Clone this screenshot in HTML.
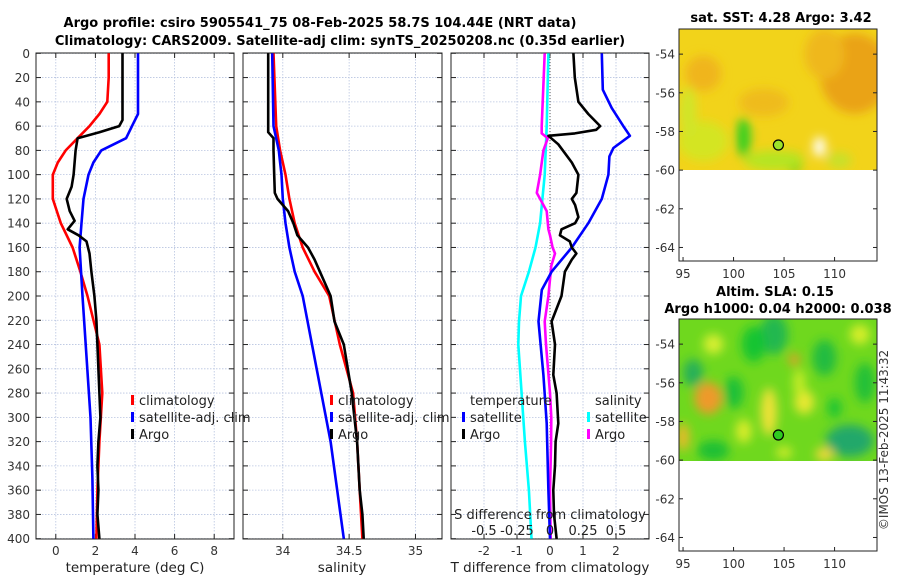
<!DOCTYPE html>
<html><head><meta charset="utf-8">
<style>
html,body{margin:0;padding:0;background:#fff;}
svg{display:block;font-family:"DejaVu Sans","Liberation Sans",sans-serif;}
.t{font-size:12px;fill:#333;}
.ti{font-size:13px;font-weight:bold;fill:#000;}
.lg{font-size:13px;fill:#222;}
.ax{font-size:13.5px;fill:#222;}
</style></head>
<body>
<svg id="fig" width="900" height="580" viewBox="0 0 900 580">
<defs>
<filter id="blur1" x="-20%" y="-20%" width="140%" height="140%"><feGaussianBlur stdDeviation="5"/></filter>
<clipPath id="c1"><rect x="679" y="29" width="198" height="141"/></clipPath>
<clipPath id="c2"><rect x="679" y="319" width="198" height="142"/></clipPath>
</defs>
<text class="ti" x="320" y="27" text-anchor="middle">Argo profile: csiro 5905541_75 08-Feb-2025 58.7S 104.44E (NRT data)</text>
<text class="ti" x="340" y="45" text-anchor="middle">Climatology: CARS2009. Satellite-adj clim: synTS_20250208.nc (0.35d earlier)</text>
<g id="plots"></g>
<g id="maps"></g>
<text class="t" x="0" y="0" transform="translate(888,440) rotate(-90)" text-anchor="middle">©IMOS 13-Feb-2025 11:43:32</text>
</svg>
<script>
// ---- data ----
const tDepth=[0,20,40,50,60,70,80,90,100,120,140,160,180,200,240,280,320,360,400];
const tClim=[2.67,2.67,2.6,2.2,1.7,1.1,0.5,0.1,-0.15,-0.15,0.25,0.85,1.24,1.6,2.2,2.35,2.2,2.1,2.05];
const aDepth=[0,55,60,65,70,80,100,110,120,130,138,145,150,155,165,180,200,220,240,260,280,300,320,340,360,380,400];
const tArgo=[3.37,3.37,3.2,2.2,1.1,1.0,0.9,0.8,0.55,0.7,0.95,0.6,1.15,1.55,1.7,1.8,1.95,2.05,2.1,2.15,2.2,2.25,2.15,2.1,2.15,2.1,2.2];
const bDepth=[0,50,60,70,80,90,100,120,140,160,200,250,300,350,400];
const tSat=[4.15,4.15,3.85,3.55,2.3,1.9,1.65,1.4,1.3,1.2,1.35,1.55,1.75,1.85,1.9];
const sDepth=[0,60,80,90,100,120,140,160,180,200,240,280,320,360,400];
const sClim=[33.93,33.95,33.98,34.0,34.02,34.05,34.09,34.15,34.24,34.35,34.43,34.53,34.56,34.58,34.60];
const sSat=[33.92,33.93,33.97,33.98,33.99,34.0,34.02,34.05,34.09,34.15,34.22,34.29,34.36,34.41,34.46];
const saDepth=[0,60,65,70,80,100,115,120,125,130,140,150,155,160,170,180,190,200,221,240,260,280,300,320,340,360,380,400];
const sArgo=[33.89,33.89,33.89,33.93,33.93,33.935,33.94,33.96,34.0,34.04,34.08,34.11,34.15,34.19,34.24,34.28,34.32,34.36,34.39,34.46,34.49,34.52,34.54,34.56,34.57,34.58,34.60,34.61];
const dtDepth=[0,20,40,50,60,63,66,68,75,90,100,115,120,125,135,140,145,150,155,160,165,170,180,190,200,221,240,265,280,305,320,340,360,380,400];
const dtArgo=[0.71,0.75,0.86,1.16,1.52,1.4,0.75,-0.05,0.25,0.66,0.86,0.8,0.66,0.76,0.86,0.76,0.35,0.3,0.6,0.66,0.8,0.66,0.45,0.4,0.35,0.05,0.15,0.1,0.2,0.25,0.17,0.15,0.1,0.12,0.2];
const dsDepth=[0,30,45,60,68,78,85,100,120,140,160,180,195,221,265,305,360,400];
const dtSat=[1.57,1.6,1.87,2.22,2.42,1.92,1.8,1.77,1.57,1.16,0.66,0.05,-0.25,-0.35,-0.2,-0.1,-0.05,0];
const csDepth=[0,60,100,140,160,180,200,221,240,280,320,360,400];
const dsSat=[-0.012,-0.025,-0.04,-0.075,-0.11,-0.16,-0.22,-0.235,-0.24,-0.215,-0.19,-0.16,-0.14];
const msDepth=[0,60,66,70,80,100,115,120,130,145,150,160,165,175,200,221,240,280,300,320,360,400];
const dsArgo=[-0.04,-0.063,-0.063,-0.017,-0.05,-0.075,-0.1,-0.075,-0.025,-0.012,0.0,0.02,0.038,0.01,-0.012,-0.04,-0.03,0,0.01,0.008,0,0.005];
const depthTicks=[0,20,40,60,80,100,120,140,160,180,200,220,240,260,280,300,320,340,360,380,400];
const tTicks=[0,2,4,6,8];
const sTicks=[34,34.5,35];
const dTicks=[-2,-1,0,1,2];
const dsTickLabels=['-0.5','-0.25','0','0.25','0.5'];
const dsTicks=[-0.5,-0.25,0,0.25,0.5];
const latTicks=[-54,-56,-58,-60,-62,-64];
const lonTicks=[95,100,105,110];
const argoLon=104.44, argoLat=-58.7;

const NS='http://www.w3.org/2000/svg';
const plots=document.getElementById('plots');
const maps=document.getElementById('maps');
function mk(tag,attrs,parent,text){const e=document.createElementNS(NS,tag);for(const k in attrs)e.setAttribute(k,attrs[k]);if(text!==undefined)e.textContent=text;(parent||plots).appendChild(e);return e;}
const Y0=53.3, YS=1.2135;
function yD(d){return Y0+d*YS;}
const panels=[{l:36,r:234,min:-1,max:9},{l:243,r:442,min:33.7,max:35.2},{l:451,r:649,min:-3,max:3}];
function xf(p,v){return p.l+(v-p.min)/(p.max-p.min)*(p.r-p.l);}
const pTop=53, pBot=539;
panels.forEach((p,i)=>{
  const g=mk('g',{});  
  depthTicks.forEach(d=>{const y=yD(d);
    const gl=mk('line',{x1:p.l,x2:p.r,y1:y,y2:y,stroke:'#b8c4e0','stroke-width':0.8,'stroke-dasharray':'1.5,1.5'},g);
     
    mk('line',{x1:p.l,x2:p.l+5,y1:y,y2:y,stroke:'#222'},g);
    mk('line',{x1:p.r-5,x2:p.r,y1:y,y2:y,stroke:'#222'},g);
  });
  const ticks=i==0?tTicks:i==1?sTicks:dTicks;
  ticks.forEach(v=>{const x=xf(p,v);
    const gl=mk('line',{x1:x,x2:x,y1:pTop,y2:pBot,stroke:'#b8c4e0','stroke-width':0.8,'stroke-dasharray':'1.5,1.5'},g);
     
    mk('line',{x1:x,x2:x,y1:pBot-5,y2:pBot,stroke:'#222'},g);
    mk('line',{x1:x,x2:x,y1:pTop,y2:pTop+5,stroke:'#222'},g);
    const t=mk('text',{x:x,y:555,'text-anchor':'middle',class:'t'},g,String(v));
     
  });
  const fr=mk('rect',{x:p.l,y:pTop,width:p.r-p.l,height:pBot-pTop,fill:'none',stroke:'#222','stroke-width':1},g);
   
});
depthTicks.forEach(d=>{const t=mk('text',{x:30,y:yD(d)+4.5,'text-anchor':'end',class:'t'},plots,String(d));
   });
const zl=mk('line',{x1:xf(panels[2],0),x2:xf(panels[2],0),y1:pTop,y2:pBot,stroke:'#555','stroke-width':1,'stroke-dasharray':'1,2'});
 

function line(pi,depths,vals,color,name,scale){
  const p=panels[pi]; const pts=depths.map((d,k)=>xf(p,vals[k]*(scale||1)).toFixed(1)+','+yD(d).toFixed(1)).join(' ');
  const e=mk('polyline',{points:pts,fill:'none',stroke:color,'stroke-width':2.6,'stroke-linejoin':'round'});
   
}
line(0,tDepth,tClim,'#ff0000','temp-climatology-line');
line(0,bDepth,tSat,'#0000ff','temp-satellite-adj-line');
line(0,aDepth,tArgo,'#000','temp-argo-line');
line(1,sDepth,sClim,'#ff0000','salinity-climatology-line');
line(1,sDepth,sSat,'#0000ff','salinity-satellite-adj-line');
line(1,saDepth,sArgo,'#000','salinity-argo-line');
line(2,csDepth,dsSat,'#00ffff','s-diff-satellite-line',4);
line(2,msDepth,dsArgo,'#ff00ff','s-diff-argo-line',4);
line(2,dsDepth,dtSat,'#0000ff','t-diff-satellite-line');
line(2,dtDepth,dtArgo,'#000','t-diff-argo-line');

function leg(x,y,color,label,name){
  const g=mk('g',{});  
  mk('rect',{x:x,y:y-10,width:3,height:10,fill:color},g);
  mk('text',{x:x+8,y:y,class:'lg'},g,label);
}
leg(131,405,'#f00','climatology','legend-entry-climatology');
leg(131,422,'#00f','satellite-adj. clim','legend-entry-satellite-adj');
leg(131,439,'#000','Argo','legend-entry-argo');
leg(330,405,'#f00','climatology','legend-entry-climatology-2');
leg(330,422,'#00f','satellite-adj. clim','legend-entry-satellite-adj-2');
leg(330,439,'#000','Argo','legend-entry-argo-2');
let tt=mk('text',{x:470,y:405,class:'lg'},plots,'temperature');
leg(462,422,'#00f','satellite','legend-entry-t-satellite');
leg(462,439,'#000','Argo','legend-entry-t-argo');
tt=mk('text',{x:595,y:405,class:'lg'},plots,'salinity');
leg(587,422,'#0ff','satellite','legend-entry-s-satellite');
leg(587,439,'#f0f','Argo','legend-entry-s-argo');
tt=mk('text',{x:550,y:519,class:'lg','text-anchor':'middle'},plots,'S difference from climatology');
dsTicks.forEach((v,k)=>{const t=mk('text',{x:xf(panels[2],v*4),y:535,class:'lg','text-anchor':'middle'},plots,dsTickLabels[k]);
  });
[['temperature (deg C)',135,'x-axis-title-temperature'],['salinity',342,'x-axis-title-salinity'],['T difference from climatology',550,'x-axis-title-t-diff']].forEach(a=>{
  const t=mk('text',{x:a[1],y:572,class:'ax','text-anchor':'middle'},plots,a[0]);});

// ---- maps ----
const mL=679,mR=877,lonMin=94.6,lonMax=114.2,latTop=-52.7,latBot=-64.7;
function mx(lon){return mL+(lon-lonMin)/(lonMax-lonMin)*(mR-mL);}
function my(t0,lat){return t0+(latTop-lat)/(latTop-latBot)*232;}
function drawMap(t0,clip,bg,blobs,name,circleFill){
  const g=mk('g',{},maps);  
  const cg=mk('g',{'clip-path':'url(#'+clip+')'},g);
  mk('rect',{x:mL,y:t0,width:mR-mL,height:232,fill:bg},cg);
  const bg2=mk('g',{filter:'url(#blur1)'},cg);
  blobs.forEach(b=>mk('ellipse',{cx:mx(b[0]),cy:my(t0,b[1]),rx:b[2],ry:b[3],fill:b[4]},bg2));
  latTicks.forEach(l=>{const y=my(t0,l);
    mk('line',{x1:mL,x2:mL+4,y1:y,y2:y,stroke:'#222'},g);mk('line',{x1:mR-4,x2:mR,y1:y,y2:y,stroke:'#222'},g);
    const t=mk('text',{x:mL-4,y:y+4.5,'text-anchor':'end',class:'t'},g,String(l));});
  lonTicks.forEach(l=>{const x=mx(l);
    mk('line',{x1:x,x2:x,y1:t0+228,y2:t0+232,stroke:'#222'},g);
    const t=mk('text',{x:x,y:t0+249,'text-anchor':'middle',class:'t'},g,String(l));});
  mk('rect',{x:mL,y:t0,width:mR-mL,height:232,fill:'none',stroke:'#222'},g);
  const c=mk('circle',{cx:mx(argoLon),cy:my(t0,argoLat),r:5,fill:circleFill,stroke:'#000','stroke-width':1.2},g);
  
}
drawMap(29,'c1','#f2d31a',[
 [112,-55,35,40,'#eaa316'],[109,-54,20,25,'#efb81a'],[97,-55,18,18,'#f0b51c'],[103,-56.5,25,14,'#efbb1c'],
 [97,-58.5,25,20,'#d4e524'],[101,-58.3,7,20,'#2fcf20'],[106,-59.6,8,10,'#22cc18'],[104,-59.5,30,10,'#b5e524'],
 [110.5,-59.5,12,8,'#c6e12a'],[95.5,-57,8,25,'#cfe62a'],[108.5,-58.8,6,10,'#ffffff']],'sst-map','#9ce22a');
drawMap(319,'c2','#6fd81e',[
 [104,-53.5,14,20,'#20b850'],[111.5,-59,24,16,'#20a86a'],[100,-56.5,10,16,'#1cc038'],[96,-55.5,10,14,'#28b058'],
 [97.5,-56.8,14,16,'#ee9a2a'],[102,-54,12,18,'#18c430'],[109,-54.7,12,18,'#20bc40'],[107,-57,10,12,'#e8e830'],
 [113,-56,10,20,'#22c038'],[98,-59.5,16,10,'#1cbf34'],[103.5,-57.5,8,24,'#f0e238'],[106,-54.8,5,6,'#ef9a2a'],
 [95,-58.8,6,14,'#f0b82a'],[109,-59.7,9,7,'#f0d83a'],[110,-57.3,7,10,'#1cc434'],[98,-54,10,10,'#d8ef30'],
 [106.5,-56,6,14,'#c8ec28'],[101,-58.5,8,12,'#d8ec2a'],[112.5,-53.5,10,10,'#d6ee2a'],[105,-59.6,8,6,'#d0ec2c']],'sla-map','#2ecb20');
[['sat. SST: 4.28 Argo: 3.42',781,22,'sst-map-title'],['Altim. SLA: 0.15',775,296,'sla-map-title'],['Argo h1000: 0.04 h2000: 0.038',778,313,'sla-map-subtitle']].forEach(a=>{
  const t=mk('text',{x:a[1],y:a[2],class:'ti','text-anchor':'middle'},maps,a[0]);});
</script>
</body></html>
